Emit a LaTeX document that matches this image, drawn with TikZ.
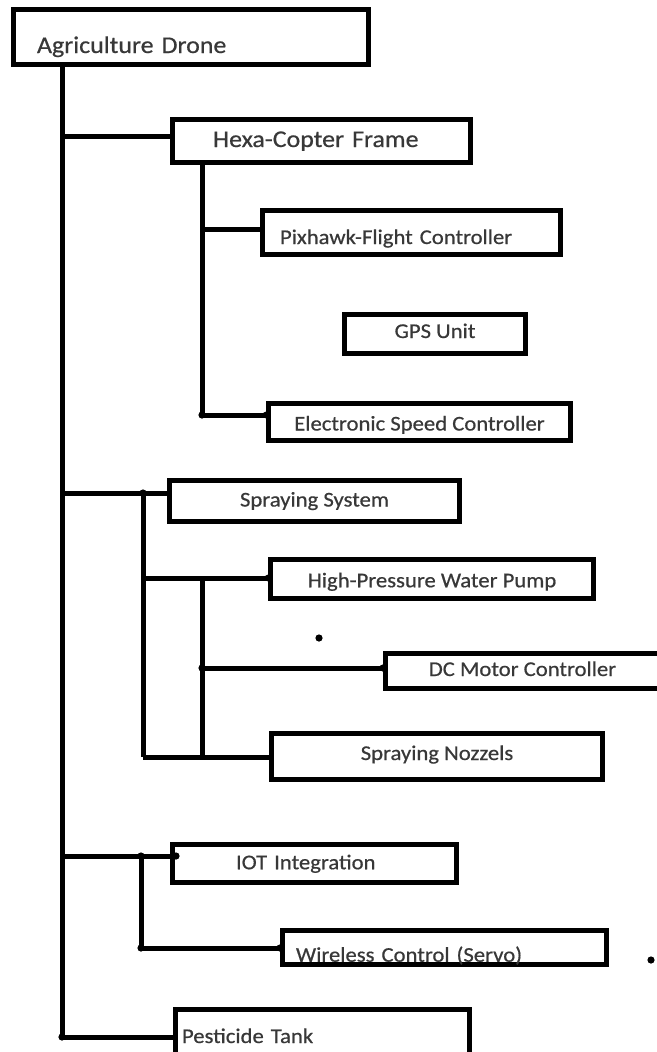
\documentclass[tikz,border=0pt]{standalone}
\usepackage{fontspec}
\setmainfont{Carlito}[FakeStretch=1.08,FakeBold=0.6]
\newcommand{\titlefont}{\fontsize{24}{28}\selectfont}
\newcommand{\itemfont}{\fontsize{21}{25}\selectfont}
\tikzstyle{box}=[draw=black,line width=5pt,inner sep=0pt,text=black!78,font=\itemfont,text depth=0pt]
\tikzstyle{lbox}=[box,align=left]
\tikzstyle{wire}=[line width=5pt]

\begin{document}
\begin{tikzpicture}[x=1pt,y=-1pt]
\useasboundingbox (0,0) rectangle (656,1052);
% boxes
\node[lbox,font=\titlefont,text width=308pt,inner xsep=23.5pt,minimum height=55pt,text height=32pt] (drone) at (191,37) {Agriculture Drone};
\node[lbox,font=\titlefont,text width=217pt,inner xsep=40.5pt,minimum height=43pt,text height=12pt] (frame) at (321.5,141) {Hexa-Copter Frame};
\node[lbox,text width=263pt,inner xsep=17.5pt,minimum height=44pt,text height=23pt] (pixhawk) at (411.5,232.5) {Pixhawk-Flight Controller};
\node[box,minimum width=181pt,minimum height=39pt,text height=8pt] (gps) at (435,334) {GPS Unit};
\node[box,minimum width=302pt,minimum height=37pt,text height=17pt] (esc) at (419.5,422) {Electronic Speed Controller};
\node[box,minimum width=290pt,minimum height=41pt,text height=11pt] (spray) at (314.5,501) {Spraying System};
\node[box,minimum width=323pt,minimum height=39pt,text height=16.5pt] (pump) at (432,579) {High-Pressure Water Pump};
\node[box,minimum width=274pt,minimum height=35pt,text height=10pt] (dcmotor) at (522.5,671) {DC Motor Controller};
\node[box,minimum width=331pt,minimum height=46pt,text height=7pt] (nozzle) at (437,756.5) {Spraying Nozzels};
\node[lbox,text width=157pt,inner xsep=63.5pt,minimum height=38pt,text height=11.5pt] (iot) at (314.5,863.5) {IOT Integration};
\node[lbox,text width=297pt,inner xsep=13.5pt,minimum height=34pt,text height=28.5pt] (servo) at (444.5,947.5) {Wireless Control (Servo)};
\node[lbox,text width=281pt,inner xsep=6.5pt,minimum height=55.5pt,text height=11.5pt] (tank) at (322.5,1037.25) {Pesticide Tank};

% junctions
\coordinate (t0) at (62,64.5); \coordinate (t1) at (62,136); \coordinate (t2) at (62,493); \coordinate (t3) at (62,856); \coordinate (t4) at (62,1037);
\coordinate (h0) at (202,162.5); \coordinate (h1) at (202,229); \coordinate (h2) at (202,415);
\coordinate (s0) at (143,493); \coordinate (s1) at (143,578); \coordinate (s2) at (143,757);
\coordinate (p1) at (202,578); \coordinate (p2) at (202,668); \coordinate (p3) at (202,757);
\coordinate (i0) at (141,856); \coordinate (i1) at (141,948);

% trunk and branches
\draw[wire] (t0) -- (t4);
\draw[wire] (t1) -- (t1 -| frame.west);
\draw[wire] (t2) -- (t2 -| spray.west);
\draw[wire] (t3) -- (t3 -| iot.west);
\draw[wire] (t4) -- (t4 -| tank.west);
\draw[wire] (h0) -- (h2);
\draw[wire] (h1) -- (h1 -| pixhawk.west);
\draw[wire] (h2) -- (h2 -| esc.west);
\draw[wire] (s0) -- (s2);
\draw[wire] (s1) -- (s1 -| pump.west);
\draw[wire] (s2) -- (s2 -| nozzle.west);
\draw[wire] (p1) -- (p3);
\draw[wire] (p2) -- (p2 -| dcmotor.west);
\draw[wire] (i0) -- (i1);
\draw[wire] (i1) -- (i1 -| servo.west);

% pen dots
\foreach \p in {t4,s0,i0,i1,p2,h2}
  \fill (\p) circle (3.6pt);
\fill (p2 -| dcmotor.west) circle (3.6pt);
\fill (i1 -| servo.west) circle (3.6pt);
\fill (t3 -| iot.west) ++(6,0) circle (3.6pt);
\fill (s1 -| pump.west) circle (3.4pt);
\fill (h2 -| esc.west) circle (3.4pt);
\fill (319,638) circle (3.6pt);
\fill (651,960) circle (3.6pt);
\end{tikzpicture}
\end{document}
